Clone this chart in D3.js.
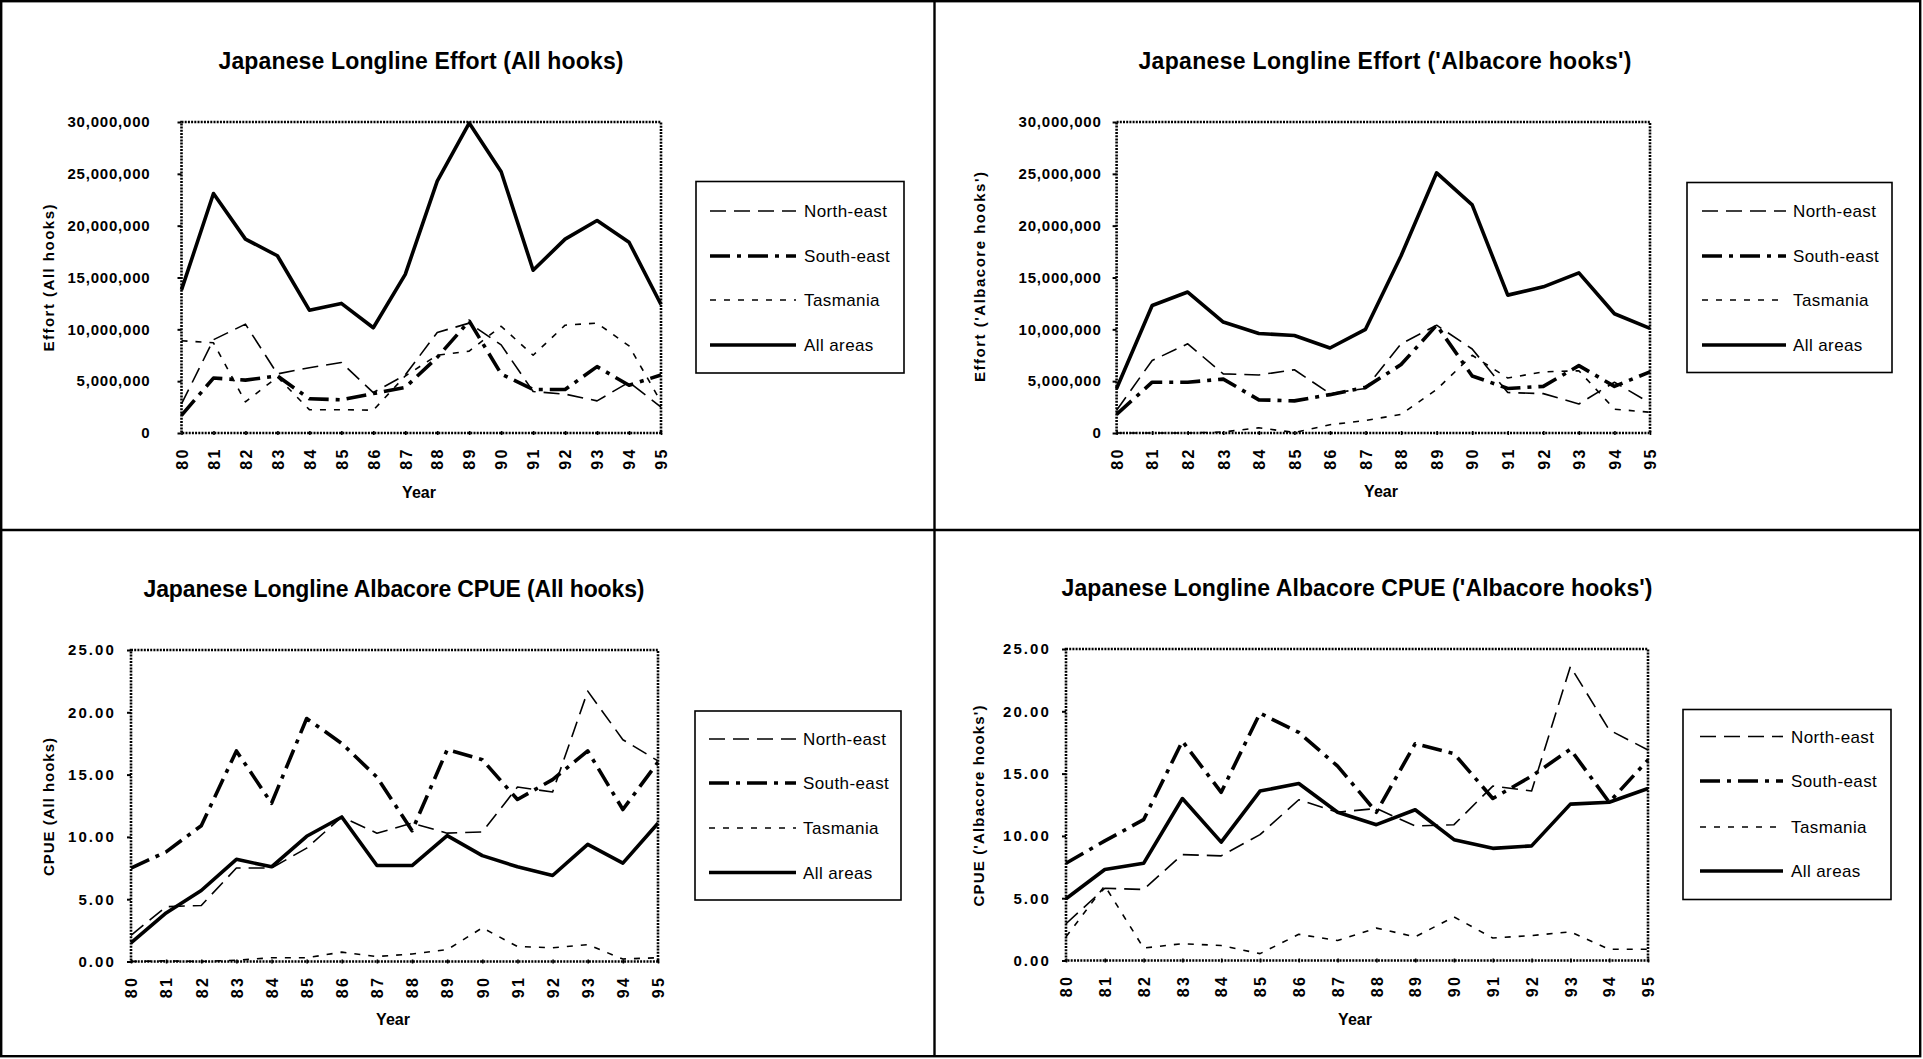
<!DOCTYPE html>
<html>
<head>
<meta charset="utf-8">
<script src="https://cdn.jsdelivr.net/npm/d3@7"></script>
<style>
  html, body { margin: 0; padding: 0; background: #fff; }
  svg { display: block; }
  text { font-family: "Liberation Sans", Arial, Helvetica, sans-serif; fill: #000; }
</style>
</head>
<body>
<svg id="chart" width="1923" height="1059"></svg>
<script>
// ---- data -------------------------------------------------------------
const years = ["80","81","82","83","84","85","86","87","88","89","90","91","92","93","94","95"];
const seriesNames = ["North-east", "South-east", "Tasmania", "All areas"];

const effortTicks = [0, 5000000, 10000000, 15000000, 20000000, 25000000, 30000000];
const cpueTicks = [0, 5, 10, 15, 20, 25];

// Effort, all hooks
const effortAllNE  = [2800000, 9000000, 10500000, 5700000, 6300000, 6800000, 3900000, 5600000, 9700000, 10600000, 8500000, 4000000, 3750000, 3100000, 4900000, 2500000];
const effortAllSE  = [1700000, 5300000, 5100000, 5500000, 3300000, 3200000, 3800000, 4400000, 7300000, 10800000, 5700000, 4200000, 4200000, 6400000, 4600000, 5600000];
const effortAllTas = [8900000, 8700000, 3000000, 5400000, 2250000, 2250000, 2200000, 5500000, 7500000, 7900000, 10300000, 7500000, 10400000, 10600000, 8400000, 3000000];
const effortAllAll = [13800000, 23100000, 18700000, 17100000, 11850000, 12500000, 10150000, 15300000, 24300000, 29900000, 25200000, 15700000, 18700000, 20500000, 18400000, 12400000];

// Effort, 'Albacore hooks'
const effortAlbNE  = [2200000, 7000000, 8600000, 5700000, 5600000, 6100000, 3800000, 4300000, 8600000, 10400000, 8100000, 3900000, 3800000, 2800000, 4900000, 2900000];
const effortAlbSE  = [1800000, 4900000, 4900000, 5200000, 3200000, 3100000, 3700000, 4400000, 6600000, 10400000, 5500000, 4300000, 4500000, 6500000, 4500000, 5900000];
const effortAlbTas = [0, 0, 0, 100000, 500000, 50000, 800000, 1200000, 1800000, 4200000, 7500000, 5300000, 5900000, 6000000, 2300000, 2000000];
const effortAlbAll = [4300000, 12300000, 13600000, 10700000, 9600000, 9400000, 8200000, 10000000, 17100000, 25100000, 22000000, 13300000, 14100000, 15450000, 11500000, 10100000];

// Albacore CPUE, all hooks
const cpueAllNE  = [2.1, 4.4, 4.5, 7.5, 7.5, 9.1, 11.6, 10.3, 11.1, 10.3, 10.4, 14.0, 13.6, 21.7, 17.8, 16.1];
const cpueAllSE  = [7.5, 8.8, 10.9, 16.9, 12.7, 19.5, 17.5, 14.8, 10.5, 17.0, 16.2, 13.0, 14.6, 16.9, 12.2, 16.0];
const cpueAllTas = [0.0, 0.05, 0.0, 0.1, 0.3, 0.3, 0.75, 0.4, 0.6, 0.95, 2.7, 1.2, 1.1, 1.35, 0.2, 0.3];
const cpueAllAll = [1.5, 3.9, 5.7, 8.2, 7.6, 10.05, 11.6, 7.7, 7.7, 10.1, 8.5, 7.6, 6.9, 9.4, 7.9, 11.1];

// Albacore CPUE, 'Albacore hooks'
const cpueAlbNE  = [2.95, 5.8, 5.7, 8.5, 8.4, 10.1, 12.9, 11.9, 12.2, 10.8, 10.9, 14.0, 13.6, 23.6, 18.5, 16.9];
const cpueAlbSE  = [7.8, 9.6, 11.3, 17.6, 13.5, 19.85, 18.3, 15.6, 11.9, 17.4, 16.6, 13.0, 14.8, 16.95, 12.7, 16.1];
const cpueAlbTas = [1.9, 6.0, 1.0, 1.35, 1.2, 0.55, 2.1, 1.6, 2.6, 1.9, 3.5, 1.8, 2.0, 2.3, 0.9, 0.9];
const cpueAlbAll = [4.96, 7.3, 7.8, 13.0, 9.5, 13.6, 14.2, 11.9, 10.9, 12.1, 9.7, 9.0, 9.2, 12.55, 12.7, 13.8];

// ---- line styles per series -------------------------------------------
const lineStyles = [
  { width: 1.6, dash: "16,8" },          // North-east
  { width: 3.6, dash: "20,7,4,7" },      // South-east
  { width: 1.6, dash: "6,8" },           // Tasmania
  { width: 3.6, dash: null }             // All areas
];

// ---- panel layout -----------------------------------------------------
const panels = [
  {
    title: "Japanese Longline Effort (All hooks)", titleX: 421, titleY: 69, titleLen: 405,
    yTitle: "Effort (All hooks)", yTitleX: 49, yTitleY: 278, yTitleLen: 147,
    plot: { x0: 181.5, x1: 661, y0: 122, y1: 433 },
    yMax: 30000000, ticks: effortTicks, fmt: d3.format(","), tickGap: 31, tickSpacing: 0.8,
    yearX: 419, yearY: 498,
    legend: { x0: 696, x1: 904, y0: 181.5, y1: 373, sx0: 710, sx1: 796, tx: 804, rows: [211, 256, 300, 345] },
    series: [effortAllNE, effortAllSE, effortAllTas, effortAllAll]
  },
  {
    title: "Japanese Longline Effort ('Albacore hooks')", titleX: 1385, titleY: 69, titleLen: 493,
    yTitle: "Effort ('Albacore hooks')", yTitleX: 980, yTitleY: 277, yTitleLen: 210,
    plot: { x0: 1116.6, x1: 1650, y0: 122, y1: 433 },
    yMax: 30000000, ticks: effortTicks, fmt: d3.format(","), tickGap: 15, tickSpacing: 0.8,
    yearX: 1381, yearY: 497,
    legend: { x0: 1687, x1: 1892, y0: 182.5, y1: 372.5, sx0: 1702, sx1: 1786, tx: 1793, rows: [211, 256, 300, 345] },
    series: [effortAlbNE, effortAlbSE, effortAlbTas, effortAlbAll]
  },
  {
    title: "Japanese Longline Albacore CPUE (All hooks)", titleX: 394, titleY: 597, titleLen: 501,
    yTitle: "CPUE (All hooks)", yTitleX: 49, yTitleY: 807, yTitleLen: 138,
    plot: { x0: 131, x1: 658, y0: 650, y1: 961.5 },
    yMax: 25, ticks: cpueTicks, fmt: d3.format(".2f"), tickGap: 15, tickSpacing: 2.1,
    yearX: 393, yearY: 1025,
    legend: { x0: 695, x1: 901, y0: 711, y1: 900, sx0: 709, sx1: 796, tx: 803, rows: [739, 783, 828, 872.5] },
    series: [cpueAllNE, cpueAllSE, cpueAllTas, cpueAllAll]
  },
  {
    title: "Japanese Longline Albacore CPUE ('Albacore hooks')", titleX: 1357, titleY: 596, titleLen: 591,
    yTitle: "CPUE ('Albacore hooks')", yTitleX: 979, yTitleY: 806, yTitleLen: 201,
    plot: { x0: 1066, x1: 1648, y0: 649, y1: 960.5 },
    yMax: 25, ticks: cpueTicks, fmt: d3.format(".2f"), tickGap: 15, tickSpacing: 2.1,
    yearX: 1355, yearY: 1025,
    legend: { x0: 1683, x1: 1891, y0: 709.5, y1: 899.5, sx0: 1700, sx1: 1783, tx: 1791, rows: [736.5, 781, 827, 871] },
    series: [cpueAlbNE, cpueAlbSE, cpueAlbTas, cpueAlbAll]
  }
];

const svg = d3.select("#chart");

// page frame and quadrant dividers
svg.append("rect").attr("x", 1.2).attr("y", 1.2).attr("width", 1919).attr("height", 1055)
  .attr("fill", "none").attr("stroke", "#000").attr("stroke-width", 2.4);
svg.append("line").attr("x1", 934.5).attr("x2", 934.5).attr("y1", 0).attr("y2", 1057)
  .attr("stroke", "#000").attr("stroke-width", 2.4);
svg.append("line").attr("x1", 0).attr("x2", 1921).attr("y1", 530).attr("y2", 530)
  .attr("stroke", "#000").attr("stroke-width", 2.4);

panels.forEach(p => {
  const g = svg.append("g");
  const x = d3.scalePoint().domain(years).range([p.plot.x0, p.plot.x1]);
  const y = d3.scaleLinear().domain([0, p.yMax]).range([p.plot.y1, p.plot.y0]);

  // title
  g.append("text").attr("x", p.titleX).attr("y", p.titleY)
    .attr("text-anchor", "middle").attr("font-size", 23).attr("font-weight", "bold")
    .attr("textLength", p.titleLen).attr("lengthAdjust", "spacing")
    .text(p.title);

  // y axis
  const yAxis = d3.axisLeft(y).tickValues(p.ticks).tickFormat(p.fmt).tickSize(4).tickPadding(p.tickGap - 4);
  const ya = g.append("g").attr("transform", `translate(${p.plot.x0},0)`).call(yAxis);
  ya.select(".domain").remove();
  ya.selectAll("line").attr("stroke", "#000").attr("stroke-width", 2);
  ya.selectAll("text").attr("font-size", 15).attr("font-weight", "bold")
    .attr("font-family", "'Liberation Sans', Arial, sans-serif")
    .style("letter-spacing", p.tickSpacing + "px");

  // x axis
  const xAxis = d3.axisBottom(x).tickSize(4).tickSizeOuter(0);
  const xa = g.append("g").attr("transform", `translate(0,${p.plot.y1 - 2})`).call(xAxis);
  xa.select(".domain").remove();
  xa.selectAll("line").attr("stroke", "#000").attr("stroke-width", 1.6);
  xa.selectAll("text")
    .attr("font-size", 16).attr("font-weight", "bold")
    .attr("font-family", "'Liberation Sans', Arial, sans-serif")
    .style("letter-spacing", "2.5px")
    .attr("text-anchor", "end")
    .attr("transform", "rotate(-90)")
    .attr("x", -16).attr("y", 0).attr("dy", "0.36em");

  // plot frame (dotted)
  g.append("rect")
    .attr("x", p.plot.x0).attr("y", p.plot.y0)
    .attr("width", p.plot.x1 - p.plot.x0).attr("height", p.plot.y1 - p.plot.y0)
    .attr("fill", "none").attr("stroke", "#000").attr("stroke-width", 2.6)
    .attr("stroke-dasharray", "2,1.2");

  // axis titles
  g.append("text")
    .attr("transform", `translate(${p.yTitleX},${p.yTitleY}) rotate(-90)`)
    .attr("text-anchor", "middle").attr("dy", "0.35em")
    .attr("font-size", 15).attr("font-weight", "bold")
    .attr("textLength", p.yTitleLen).attr("lengthAdjust", "spacing")
    .text(p.yTitle);
  g.append("text").attr("x", p.yearX).attr("y", p.yearY)
    .attr("text-anchor", "middle").attr("font-size", 16).attr("font-weight", "bold")
    .text("Year");

  // series lines
  const line = d3.line().x((d, i) => x(years[i])).y(d => y(d));
  p.series.forEach((vals, si) => {
    const st = lineStyles[si];
    g.append("path").datum(vals)
      .attr("d", line)
      .attr("fill", "none").attr("stroke", "#000")
      .attr("stroke-width", st.width)
      .attr("stroke-linejoin", "round")
      .attr("stroke-dasharray", st.dash);
  });

  // legend
  const L = p.legend;
  g.append("rect").attr("x", L.x0).attr("y", L.y0)
    .attr("width", L.x1 - L.x0).attr("height", L.y1 - L.y0)
    .attr("fill", "#fff").attr("stroke", "#000").attr("stroke-width", 1.6);
  seriesNames.forEach((name, si) => {
    const st = lineStyles[si];
    const ry = L.rows[si];
    g.append("line").attr("x1", L.sx0).attr("x2", L.sx1).attr("y1", ry).attr("y2", ry)
      .attr("stroke", "#000").attr("stroke-width", st.width)
      .attr("stroke-dasharray", st.dash);
    g.append("text").attr("x", L.tx).attr("y", ry).attr("dy", "0.36em")
      .attr("font-size", 17).style("letter-spacing", "0.4px")
      .text(name);
  });
});
</script>
</body>
</html>
